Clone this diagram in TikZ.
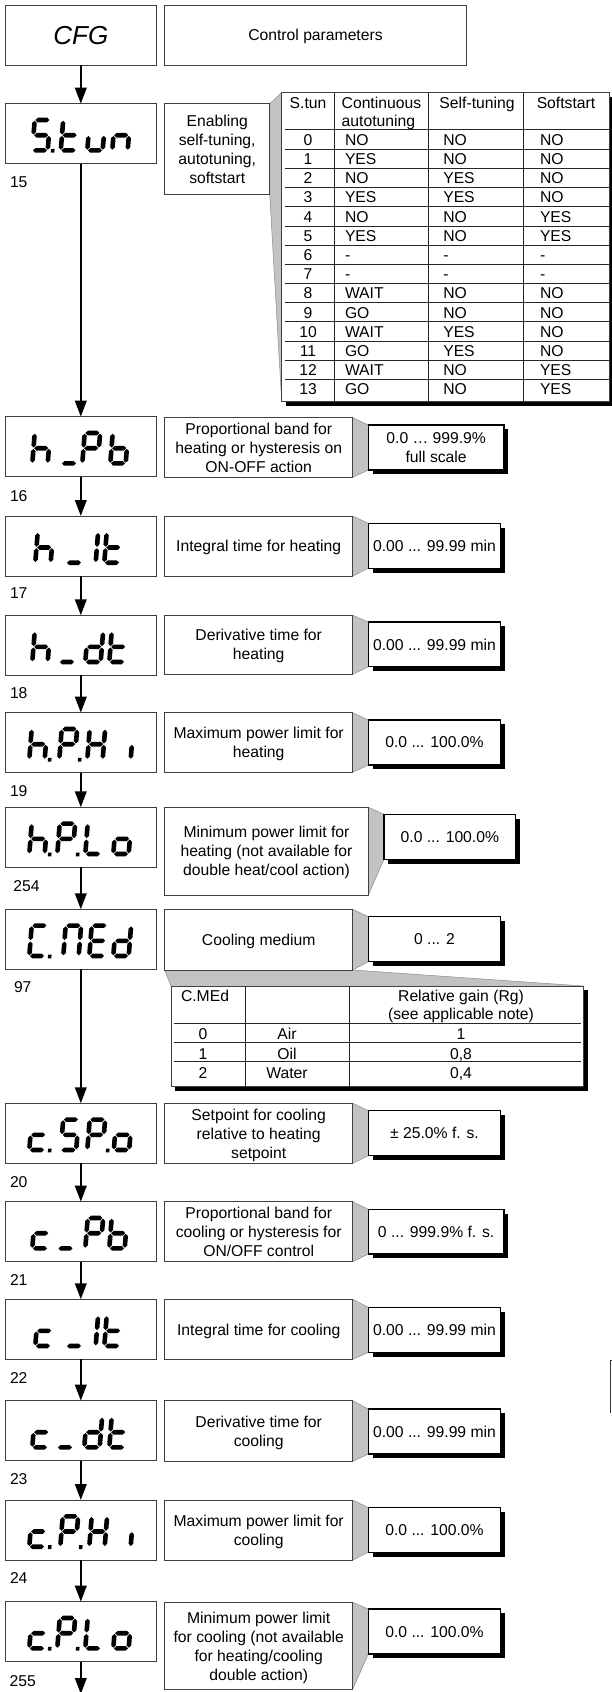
\documentclass[tikz,border=0pt]{standalone}
\usepackage{fontspec}
\setmainfont{Liberation Sans}
\usetikzlibrary{arrows.meta}
\pgfdeclarelayer{bg}
\pgfdeclarelayer{paper}
\pgfsetlayers{paper,bg,main}
\newcommand\dfs{\fontsize{15.7}{19}\selectfont}
% seven-segment pieces (local units, w upward)
\newcommand\hsg[1]{\fill (3,#1) -- (5.3,#1+2.3) -- (14.7,#1+2.3) -- (17,#1) -- (14.7,#1-2.3) -- (5.3,#1-2.3) -- cycle;}
\newcommand\vsg[3]{\fill (#1,#2+0.7) -- (#1+2.3,#2+3) -- (#1+2.3,#3-3) -- (#1,#3-0.7) -- (#1-2.3,#3-3) -- (#1-2.3,#2+3) -- cycle;}
\def\segA{\hsg{32.7}}
\def\segG{\hsg{17.5}}
\def\segD{\hsg{2.3}}
\def\segF{\vsg{2.3}{17.5}{32.7}}
\def\segE{\vsg{2.3}{2.3}{17.5}}
\def\segB{\vsg{17.7}{17.5}{32.7}}
\def\segC{\vsg{17.7}{2.3}{17.5}}
\def\segP{\fill (21,0) rectangle (24.5,3.8);}
\def\dspS{\segA\segF\segG\segC\segD}
\def\dspt{\segF\segE\segG\segD}
\def\dspu{\segE\segD\segC}
\def\dspn{\segE\segG\segC}
\def\dsph{\segF\segE\segG\segC}
\def\dspP{\segA\segB\segF\segG\segE}
\def\dspb{\segF\segE\segD\segC\segG}
\def\dspd{\segB\segC\segD\segE\segG}
\def\dspH{\segF\segE\segB\segC\segG}
\def\dspL{\segF\segE\segD}
\def\dspo{\segG\segC\segD\segE}
\def\dspc{\segG\segE\segD}
\def\dspC{\segA\segF\segE\segD}
\def\dspM{\segA\segB\segC\segE\segF}
\def\dspE{\segA\segF\segG\segE\segD}
\newcommand\dcell[2]{\begin{scope}[shift={(#1,0)},y={(0pt,1pt)},xslant=0.08]#2\end{scope}}
\newcommand\dispbox[3]{\node[disp] (#1) at (80.8,{#2+30}) {};\begin{scope}[shift={(29.8,{#2+49})}]#3\end{scope}}
\newcommand\tbox[7]{\node[#1,minimum width={(#5-#3)*1pt},minimum height={(#6-#4)*1pt}] (#2) at ({(#3+#5)/2},{(#4+#6)/2}) {#7};}
\newcommand\valbx[6]{\begin{pgfonlayer}{bg}\fill ({#2+4.3},{#3+4.3}) rectangle ({#4+4.3},{#5+4.3});\end{pgfonlayer}\tbox{val}{#1}{#2}{#3}{#4}{#5}{#6}}
\newcommand\callto[2]{\begin{pgfonlayer}{bg}\fill[wedgefill] (#1.north east) -- (#2.north west) -- (#2.south west) -- (#1.south east) -- cycle;\draw[wedgeline] (#1.north east) -- (#2.north west) (#2.south west) -- (#1.south east);\end{pgfonlayer}}
\begin{document}
\begin{tikzpicture}[x=1pt,y=-1pt,
 boxbase/.style={draw=black!75, line width=0.9pt, fill=white, inner sep=0pt, outer sep=0pt, align=center, font=\dfs, text depth=0pt},
 disp/.style={boxbase, minimum width=151pt, minimum height=60pt},
 desc/.style={boxbase},
 val/.style={boxbase, draw=black, line width=1.1pt},
 arr/.style={line width=2.2pt, -{Triangle[length=16pt,width=11.5pt]}},
 wedgefill/.style={fill=black!24},
 wedgeline/.style={draw=black!45, line width=0.5pt},
 txt/.style={inner sep=0pt, outer sep=0pt, font=\dfs, text height=11.3pt, text depth=0pt},
 lbl/.style={txt, anchor=west},
 tabframe/.style={draw=black!75, line width=0.9pt, fill=white, inner sep=0pt, outer sep=0pt},
 tabline/.style={draw=black!85, line width=0.9pt}]
\begin{pgfonlayer}{paper}\fill[white] (0,0) rectangle (611,1692);\end{pgfonlayer}
\useasboundingbox (0,0) rectangle (611,1692);

% CFG
\node[disp] (dCFG) at (80.8,35.3) {\fontsize{26}{30}\selectfont\itshape CFG};
\tbox{desc}{tCFG}{164.7}{5.3}{466.3}{65.3}{Control parameters}

% S.tun
\dispbox{dStun}{103.7}{\dcell{0}{\dspS\segP}\dcell{28.5}{\dspt}\dcell{55}{\dspu}\dcell{80}{\dspn}}
\tbox{desc}{tStun}{164.7}{103.7}{269.7}{194}{Enabling\\self-tuning,\\autotuning,\\softstart}
\begin{pgfonlayer}{bg}\fill (286,97) rectangle (613.3,406);\end{pgfonlayer}
\node[tabframe, minimum width=327.3pt, minimum height=309pt] (stab) at (445.35,247.2) {};
\foreach \xx in {334.3,428.7,523.3} \draw[tabline] (\xx,92.7) -- (\xx,401.7);
\draw[tabline] (285,129.3) -- (609,129.3);
\foreach \k in {0,...,12} \draw[tabline] (285,{149.3+19.17*\k}) -- (609,{149.3+19.17*\k});
\node[txt] (sh1) at (308,102.7) {S.tun};
\node[txt,anchor=west] (sh2) at (341.7,102.7) {Continuous};
\node[txt,anchor=west] (sh2b) at (341.7,121.3) {autotuning};
\node[txt] (sh3) at (477,102.7) {Self-tuning};
\node[txt] (sh4) at (566,102.7) {Softstart};
\foreach \rown/\colA/\colB/\colC [count=\k from 0] in {0/NO/NO/NO,1/YES/NO/NO,2/NO/YES/NO,3/YES/YES/NO,4/NO/NO/YES,5/YES/NO/YES,6/-/-/-,7/-/-/-,8/WAIT/NO/NO,9/GO/NO/NO,10/WAIT/YES/NO,11/GO/YES/NO,12/WAIT/NO/YES,13/GO/NO/YES}{
 \pgfmathsetmacro\yy{139.7+19.2*\k}
 \node[txt] (sr\k) at (308,\yy) {\rown};
 \node[txt,anchor=west] (sa\k) at (345,\yy) {\colA};
 \node[txt,anchor=west] (sb\k) at (443.3,\yy) {\colB};
 \node[txt,anchor=west] (sc\k) at (540,\yy) {\colC};
}
\callto{tStun}{stab}

% h_Pb
\dispbox{dhPb}{416.7}{\dcell{0}{\dsph}\dcell{29}{\segD}\dcell{50}{\dspP}\dcell{78}{\dspb}}
\tbox{desc}{thPb}{164.7}{417.7}{352.7}{477.3}{Proportional band for\\heating or hysteresis on\\ON-OFF action}
\valbx{vhPb}{368.3}{425}{504}{470}{0.0 … 999.9\%\\full scale}
\callto{thPb}{vhPb}

% h_It
\dispbox{dhIt}{516}{\dcell{3}{\dsph}\dcell{34}{\segD}\dcell{48}{\segB\segC}\dcell{72}{\dspt}}
\tbox{desc}{thIt}{164.7}{516}{352.7}{576}{Integral time for heating}
\valbx{vhIt}{368.3}{523.3}{500.7}{568.3}{0.00 ... 99.99 min}
\callto{thIt}{vhIt}

% h_dt
\dispbox{dhdt}{615.3}{\dcell{0}{\dsph}\dcell{27}{\segD}\dcell{53}{\dspd}\dcell{77}{\dspt}}
\tbox{desc}{thdt}{164.7}{615.3}{352.7}{674.3}{Derivative time for\\heating}
\valbx{vhdt}{368.3}{622}{500.7}{666.7}{0.00 ... 99.99 min}
\callto{thdt}{vhdt}

% h.P.Hi
\dispbox{dhPHi}{712.7}{\dcell{-3}{\dsph\segP}\dcell{27}{\dspP\segP}\dcell{55}{\dspH}\dcell{83}{\segC}}
\tbox{desc}{thPHi}{164.7}{712.7}{352.7}{772.3}{Maximum power limit for\\heating}
\valbx{vhPHi}{368.3}{720}{500.7}{765}{0.0 ... 100.0\%}
\callto{thPHi}{vhPHi}

% h.P.Lo
\dispbox{dhPLo}{807.3}{\dcell{-3}{\dsph\segP}\dcell{25}{\dspP\segP}\dcell{53}{\dspL}\dcell{81}{\dspo}}
\tbox{desc}{thPLo}{164.7}{807.3}{368.3}{895}{Minimum power limit for\\heating (not available for\\double heat/cool action)}
\valbx{vhPLo}{384}{814.3}{515.7}{859.3}{0.0 ... 100.0\%}
\callto{thPLo}{vhPLo}

% C.MEd
\dispbox{dCMEd}{909.3}{\dcell{-3}{\dspC\segP}\dcell{31}{\dspM}\dcell{57}{\dspE}\dcell{81}{\dspd}}
\tbox{desc}{tCMEd}{164.7}{909.3}{352.7}{970}{Cooling medium}
\valbx{vCMEd}{368.3}{916.7}{500.7}{961.7}{0 ... 2}
\callto{tCMEd}{vCMEd}
\begin{pgfonlayer}{bg}\fill (175.3,990.3) rectangle (587.7,1091);\end{pgfonlayer}
\node[tabframe, minimum width=412.4pt, minimum height=100.7pt] (ctab) at (377.2,1036.35) {};
\foreach \xx in {245,349.3} \draw[tabline] (\xx,986) -- (\xx,1086.7);
\foreach \yy in {1023.3,1042.7,1061.7} \draw[tabline] (174,\yy) -- (580.7,\yy);
\node[txt] (ch1) at (205,996) {C.MEd};
\node[txt] (ch3) at (461,995.7) {Relative gain (Rg)};
\node[txt] (ch3b) at (461,1014.3) {(see applicable note)};
\foreach \rown/\colA/\colB [count=\k from 0] in {0/Air/1,1/Oil/{0,8},2/Water/{0,4}}{
 \pgfmathsetmacro\yy{1034.3+19.2*\k}
 \node[txt] (cr\k) at (203,\yy) {\rown};
 \node[txt] (ca\k) at (287,\yy) {\colA};
 \node[txt] (cb\k) at (461,\yy) {\colB};
}
\begin{pgfonlayer}{bg}
\fill[wedgefill] (tCMEd.south west) -- (tCMEd.south east) -- (ctab.north east) -- (ctab.north west) -- cycle;
\draw[wedgeline] (tCMEd.south west) -- (ctab.north west) (tCMEd.south east) -- (ctab.north east);
\end{pgfonlayer}

% c.SP.o
\dispbox{dcSPo}{1103.3}{\dcell{-3}{\dspc\segP}\dcell{28.5}{\dspS}\dcell{55}{\dspP\segP}\dcell{81.5}{\dspo}}
\tbox{desc}{tcSPo}{164.7}{1103.3}{352.7}{1163.3}{Setpoint for cooling\\relative to heating\\setpoint}
\valbx{vcSPo}{368.3}{1110.7}{500.7}{1155.7}{± 25.0\% f. s.}
\callto{tcSPo}{vcSPo}

% c_Pb
\dispbox{dcPb}{1201.7}{\dcell{0}{\dspc}\dcell{25.5}{\segD}\dcell{53}{\dspP}\dcell{77}{\dspb}}
\tbox{desc}{tcPb}{164.7}{1201.7}{352.7}{1261.7}{Proportional band for\\cooling or hysteresis for\\ON/OFF control}
\valbx{vcPb}{368.3}{1209.3}{504}{1254}{0 ... 999.9\% f. s.}
\callto{tcPb}{vcPb}

% c_It
\dispbox{dcIt}{1299.3}{\dcell{3}{\dspc}\dcell{34}{\segD}\dcell{48}{\segB\segC}\dcell{72}{\dspt}}
\tbox{desc}{tcIt}{164.7}{1299.3}{352.7}{1359.3}{Integral time for cooling}
\valbx{vcIt}{368.3}{1307.3}{500.7}{1352.3}{0.00 ... 99.99 min}
\callto{tcIt}{vcIt}

% c_dt
\dispbox{dcdt}{1400.7}{\dcell{0}{\dspc}\dcell{25}{\segD}\dcell{52}{\dspd}\dcell{77}{\dspt}}
\tbox{desc}{tcdt}{164.7}{1400.7}{352.7}{1461.3}{Derivative time for\\cooling}
\valbx{vcdt}{368.3}{1409}{500.7}{1454}{0.00 ... 99.99 min}
\callto{tcdt}{vcdt}

% c.P.Hi
\dispbox{dcPHi}{1500}{\dcell{-3}{\dspc\segP}\dcell{28}{\dspP\segP}\dcell{57}{\dspH}\dcell{83}{\segC}}
\tbox{desc}{tcPHi}{164.7}{1500}{352.7}{1560}{Maximum power limit for\\cooling}
\valbx{vcPHi}{368.3}{1507.7}{500.7}{1552.3}{0.0 ... 100.0\%}
\callto{tcPHi}{vcPHi}

% c.P.Lo
\dispbox{dcPLo}{1601.7}{\dcell{-3}{\dspc\segP}\dcell{25}{\dspP\segP}\dcell{53}{\dspL}\dcell{81}{\dspo}}
\tbox{desc}{tcPLo}{164.7}{1602.3}{352.7}{1689.3}{Minimum power limit\\for cooling (not available\\for heating/cooling\\double action)}
\valbx{vcPLo}{368.3}{1609}{500.7}{1654}{0.0 ... 100.0\%}
\callto{tcPLo}{vcPLo}

% index labels
\node[lbl] (n15) at (10,181.7) {15};
\node[lbl] (n16) at (10,495.7) {16};
\node[lbl] (n17) at (10,593.3) {17};
\node[lbl] (n18) at (10,692.7) {18};
\node[lbl] (n19) at (10,790.7) {19};
\node[lbl] (n254) at (13.3,885.7) {254};
\node[lbl] (n97) at (14,987.3) {97};
\node[lbl] (n20) at (10,1181.7) {20};
\node[lbl] (n21) at (10,1280) {21};
\node[lbl] (n22) at (10,1377.7) {22};
\node[lbl] (n23) at (10,1479.3) {23};
\node[lbl] (n24) at (10,1578.3) {24};
\node[lbl] (n255) at (9.7,1680.7) {255};

% arrows
\draw[arr] (dCFG.south) -- (dStun.north);
\draw[arr] (dStun.south) -- (dhPb.north);
\draw[arr] (dhPb.south) -- (dhIt.north);
\draw[arr] (dhIt.south) -- (dhdt.north);
\draw[arr] (dhdt.south) -- (dhPHi.north);
\draw[arr] (dhPHi.south) -- (dhPLo.north);
\draw[arr] (dhPLo.south) -- (dCMEd.north);
\draw[arr] (dCMEd.south) -- (dcSPo.north);
\draw[arr] (dcSPo.south) -- (dcPb.north);
\draw[arr] (dcPb.south) -- (dcIt.north);
\draw[arr] (dcIt.south) -- (dcdt.north);
\draw[arr] (dcdt.south) -- (dcPHi.north);
\draw[arr] (dcPHi.south) -- (dcPLo.north);
\coordinate (endp) at (80.8,1694);
\draw[arr] (dcPLo.south) -- (endp);

% edge mark at right border
\draw[line width=1pt, black!80] (611.5,1360) -- (610,1360) -- (610,1413);
\end{tikzpicture}
\end{document}
